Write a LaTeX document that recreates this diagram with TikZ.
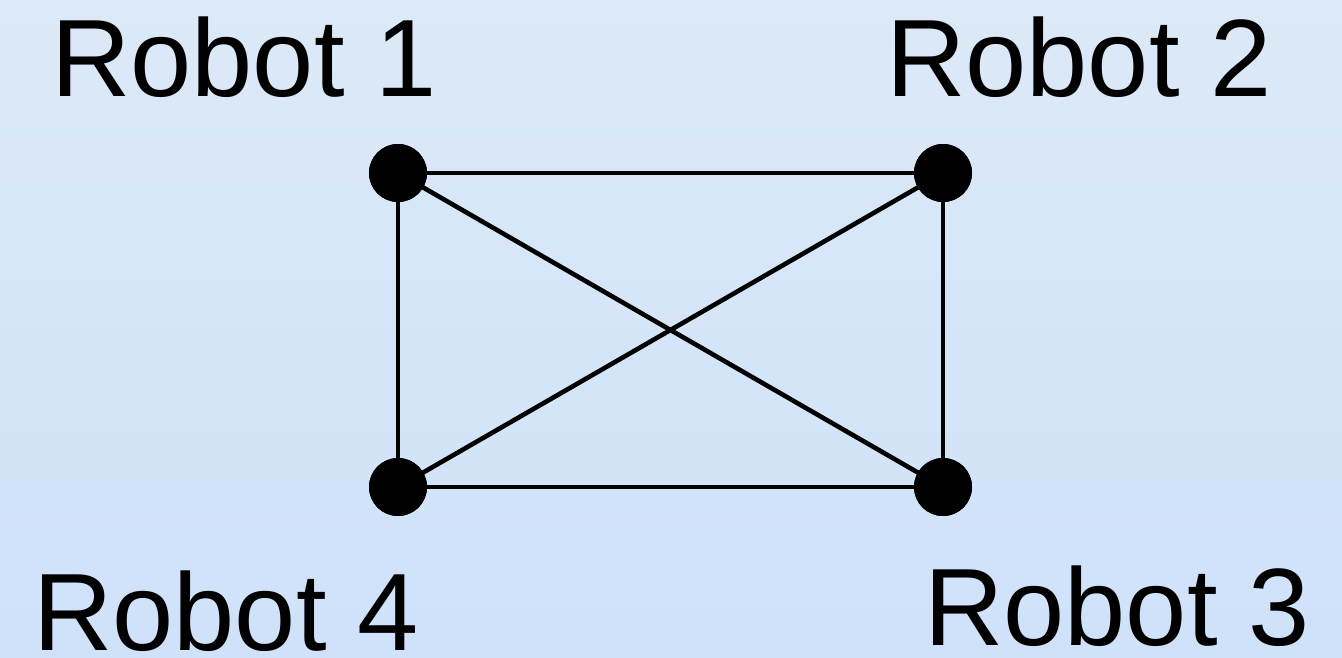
\documentclass[tikz,border=0pt]{standalone}
\usepackage{fontspec}
\setmainfont{Liberation Sans}
\definecolor{bgtop}{RGB}{220,233,247}
\definecolor{bgbot}{RGB}{207,226,250}
\begin{document}
\begin{tikzpicture}[x=1bp,y=-1bp,
  robot/.style={circle,fill=black,inner sep=0pt,minimum size=58bp},
  link/.style={line width=4.6bp,black},
  lbl/.style={anchor=base west,inner sep=0pt,font=\fontsize{110bp}{120bp}\selectfont}]
\shade[top color=bgtop,bottom color=bgbot] (0,0) rectangle (1342,658);
\useasboundingbox (0,0) rectangle (1342,658);
\node[robot] (n1) at (398,173) {};
\node[robot] (n2) at (943,173) {};
\node[robot] (n3) at (943,487) {};
\node[robot] (n4) at (398,487) {};
\draw[link] (n1.center) -- (n2.center);
\draw[link] (n2.center) -- (n3.center);
\draw[link] (n3.center) -- (n4.center);
\draw[link] (n4.center) -- (n1.center);
\draw[link] (n1.center) -- (n3.center);
\draw[link] (n2.center) -- (n4.center);
\node[robot] at (n1) {};
\node[robot] at (n2) {};
\node[robot] at (n3) {};
\node[robot] at (n4) {};
\node[lbl] (l1) at (51,97) {Robot 1};
\node[lbl] (l2) at (886,97) {Robot 2};
\node[lbl] (l3) at (924,645) {Robot 3};
\node[lbl] (l4) at (33,650) {Robot 4};
\end{tikzpicture}
\end{document}
